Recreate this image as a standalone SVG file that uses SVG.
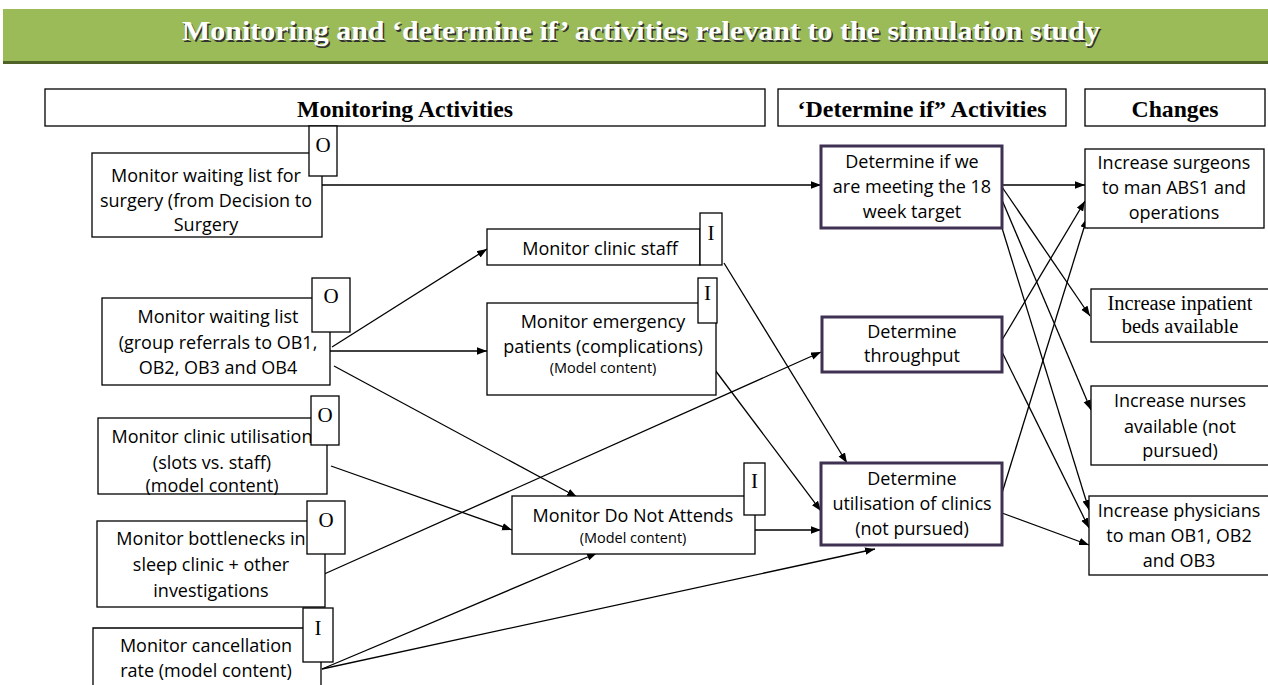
<svg xmlns="http://www.w3.org/2000/svg" width="1268" height="685" viewBox="0 0 1268 685">
<style>
.box{fill:#fff;stroke:#000;stroke-width:1.3}
.dbox{fill:#fff;stroke:#3f3151;stroke-width:3}
.tag{fill:#fff;stroke:#000;stroke-width:1.3}
.t{font-family:"Open Sans","Liberation Sans",sans-serif;font-size:18px;fill:#000;text-anchor:middle}
.s{font-family:"Open Sans","Liberation Sans",sans-serif;font-size:14.5px;fill:#000;text-anchor:middle}
.serif{font-family:"Liberation Serif","Times New Roman",serif;font-size:20.5px;fill:#000;text-anchor:middle}
.tg{font-family:"Liberation Serif","Times New Roman",serif;font-size:21px;fill:#000;text-anchor:middle}
.hd{font-family:"Liberation Serif","Times New Roman",serif;font-size:23px;font-weight:bold;fill:#000;text-anchor:middle}
.ttl{font-family:"Liberation Serif","Times New Roman",serif;font-size:28px;font-weight:bold;text-anchor:middle}
.c{stroke:#000;stroke-width:1.3;fill:none;marker-end:url(#ah)}
</style>
<defs>
<marker id="ah" markerUnits="userSpaceOnUse" markerWidth="11" markerHeight="8" refX="10" refY="3.75" orient="auto">
<path d="M0,0 L10,3.75 L0,7.5 z" fill="#000"/>
</marker>
</defs>
<rect width="1268" height="685" fill="#fff"/>
<g id="title">
<rect x="3" y="9" width="1265" height="53" fill="#9bbb59"/>
<rect x="3" y="61" width="1265" height="3" fill="#4f6228"/>
<text class="ttl" x="642.5" y="41.5" fill="#333" textLength="918" lengthAdjust="spacingAndGlyphs">Monitoring and ‘determine if’ activities relevant to the simulation study</text>
<text class="ttl" x="641" y="40" fill="#fff" textLength="918" lengthAdjust="spacingAndGlyphs">Monitoring and ‘determine if’ activities relevant to the simulation study</text>
</g>
<g id="headers">
<rect class="box" x="45" y="89" width="720" height="37"/>
<text class="hd" x="405" y="117" textLength="216" lengthAdjust="spacingAndGlyphs">Monitoring Activities</text>
<rect class="box" x="778" y="89" width="288" height="37"/>
<text class="hd" x="922" y="117" textLength="249" lengthAdjust="spacingAndGlyphs">‘Determine if” Activities</text>
<rect class="box" x="1085" y="89" width="180" height="37"/>
<text class="hd" x="1175" y="117" textLength="87" lengthAdjust="spacingAndGlyphs">Changes</text>
</g>
<g id="connectors">
<line class="c" x1="322" y1="185" x2="821" y2="185"/>
<line class="c" x1="332" y1="347" x2="487" y2="249"/>
<line class="c" x1="330" y1="351" x2="487" y2="351"/>
<line class="c" x1="334" y1="366" x2="577" y2="497"/>
<line class="c" x1="331" y1="466" x2="512" y2="530"/>
<line class="c" x1="322" y1="575" x2="821" y2="352"/>
<line class="c" x1="322" y1="669" x2="597" y2="553"/>
<line class="c" x1="322" y1="669" x2="875" y2="549"/>
<line class="c" x1="724" y1="263" x2="847" y2="463"/>
<line class="c" x1="712" y1="366" x2="821" y2="511"/>
<line class="c" x1="755" y1="530" x2="821" y2="530"/>
<line class="c" x1="1002" y1="185" x2="1085" y2="185"/>
<line class="c" x1="1002" y1="187" x2="1090" y2="316"/>
<line class="c" x1="1002" y1="200" x2="1091" y2="410"/>
<line class="c" x1="1002" y1="228" x2="1089" y2="510"/>
<line class="c" x1="1002" y1="340" x2="1085" y2="201"/>
<line class="c" x1="1002" y1="352" x2="1089" y2="528"/>
<line class="c" x1="1002" y1="493" x2="1087" y2="218"/>
<line class="c" x1="1002" y1="513" x2="1089" y2="545"/>
</g>
<g id="n1">
<rect class="box" x="92" y="153" width="230" height="84"/>
<text class="t" x="206" y="182">Monitor waiting list for</text>
<text class="t" x="206" y="207">surgery (from Decision to</text>
<text class="t" x="206" y="231">Surgery</text>
<rect class="tag" x="309" y="126" width="28" height="50"/>
<text class="tg" x="323" y="152">O</text>
</g>
<g id="n2">
<rect class="box" x="102" y="298" width="228" height="87"/>
<text class="t" x="218" y="323">Monitor waiting list</text>
<text class="t" x="218" y="349">(group referrals to OB1,</text>
<text class="t" x="218" y="374">OB2, OB3 and OB4</text>
<rect class="tag" x="312" y="278" width="38" height="54"/>
<text class="tg" x="331" y="303">O</text>
</g>
<g id="n3">
<rect class="box" x="98" y="418" width="229" height="76"/>
<text class="t" x="212" y="443">Monitor clinic utilisation</text>
<text class="t" x="212" y="469">(slots vs. staff)</text>
<text class="t" x="212" y="492">(model content)</text>
<rect class="tag" x="311" y="396" width="28" height="49"/>
<text class="tg" x="325" y="422">O</text>
</g>
<g id="n4">
<rect class="box" x="97" y="521" width="228" height="86"/>
<text class="t" x="211" y="545">Monitor bottlenecks in</text>
<text class="t" x="211" y="571">sleep clinic + other</text>
<text class="t" x="211" y="597">investigations</text>
<rect class="tag" x="307" y="501" width="38" height="53"/>
<text class="tg" x="326" y="527">O</text>
</g>
<g id="n5">
<path class="box" d="M93,690 V628 H321 V690"/>
<text class="t" x="206" y="652">Monitor cancellation</text>
<text class="t" x="206" y="677">rate (model content)</text>
<rect class="tag" x="303" y="608" width="30" height="54"/>
<text class="tg" x="318" y="635">I</text>
</g>
<g id="staff">
<rect class="box" x="487" y="229" width="213" height="36"/>
<text class="t" x="600" y="255">Monitor clinic staff</text>
<rect class="tag" x="700" y="213" width="22" height="52"/>
<text class="tg" x="711" y="240">I</text>
</g>
<g id="emergency">
<rect class="box" x="487" y="303" width="229" height="92"/>
<text class="t" x="603" y="328">Monitor emergency</text>
<text class="t" x="603" y="353">patients (complications)</text>
<text class="s" x="603" y="373">(Model content)</text>
<rect class="tag" x="698" y="278" width="19" height="45"/>
<text class="tg" x="707.5" y="300">I</text>
</g>
<g id="dna">
<rect class="box" x="512" y="496" width="243" height="58"/>
<text class="t" x="633" y="522">Monitor Do Not Attends</text>
<text class="s" x="633" y="543">(Model content)</text>
<rect class="tag" x="744" y="463" width="21" height="52"/>
<text class="tg" x="754.5" y="488">I</text>
</g>
<g id="d1">
<rect class="dbox" x="821" y="146" width="181" height="82"/>
<text class="t" x="912" y="168">Determine if we</text>
<text class="t" x="912" y="193">are meeting the 18</text>
<text class="t" x="912" y="218">week target</text>
</g>
<g id="d2">
<rect class="dbox" x="822" y="317" width="180" height="55"/>
<text class="t" x="912" y="338">Determine</text>
<text class="t" x="912" y="362">throughput</text>
</g>
<g id="d3">
<rect class="dbox" x="821" y="463" width="181" height="82"/>
<text class="t" x="912" y="485">Determine</text>
<text class="t" x="912" y="510">utilisation of clinics</text>
<text class="t" x="912" y="535">(not pursued)</text>
</g>
<g id="c1">
<rect class="box" x="1085" y="149" width="179" height="79"/>
<text class="t" x="1174" y="169">Increase surgeons</text>
<text class="t" x="1174" y="194">to man ABS1 and</text>
<text class="t" x="1174" y="219">operations</text>
</g>
<g id="c2">
<rect class="box" x="1091" y="289" width="180" height="53"/>
<text class="serif" x="1180" y="310">Increase inpatient</text>
<text class="serif" x="1180" y="333">beds available</text>
</g>
<g id="c3">
<rect class="box" x="1091" y="386" width="180" height="79"/>
<text class="t" x="1180" y="407">Increase nurses</text>
<text class="t" x="1180" y="433">available (not</text>
<text class="t" x="1180" y="457">pursued)</text>
</g>
<g id="c4">
<rect class="box" x="1089" y="496" width="180" height="79"/>
<text class="t" x="1179" y="517">Increase physicians</text>
<text class="t" x="1179" y="542">to man OB1, OB2</text>
<text class="t" x="1179" y="567">and OB3</text>
</g>
</svg>
